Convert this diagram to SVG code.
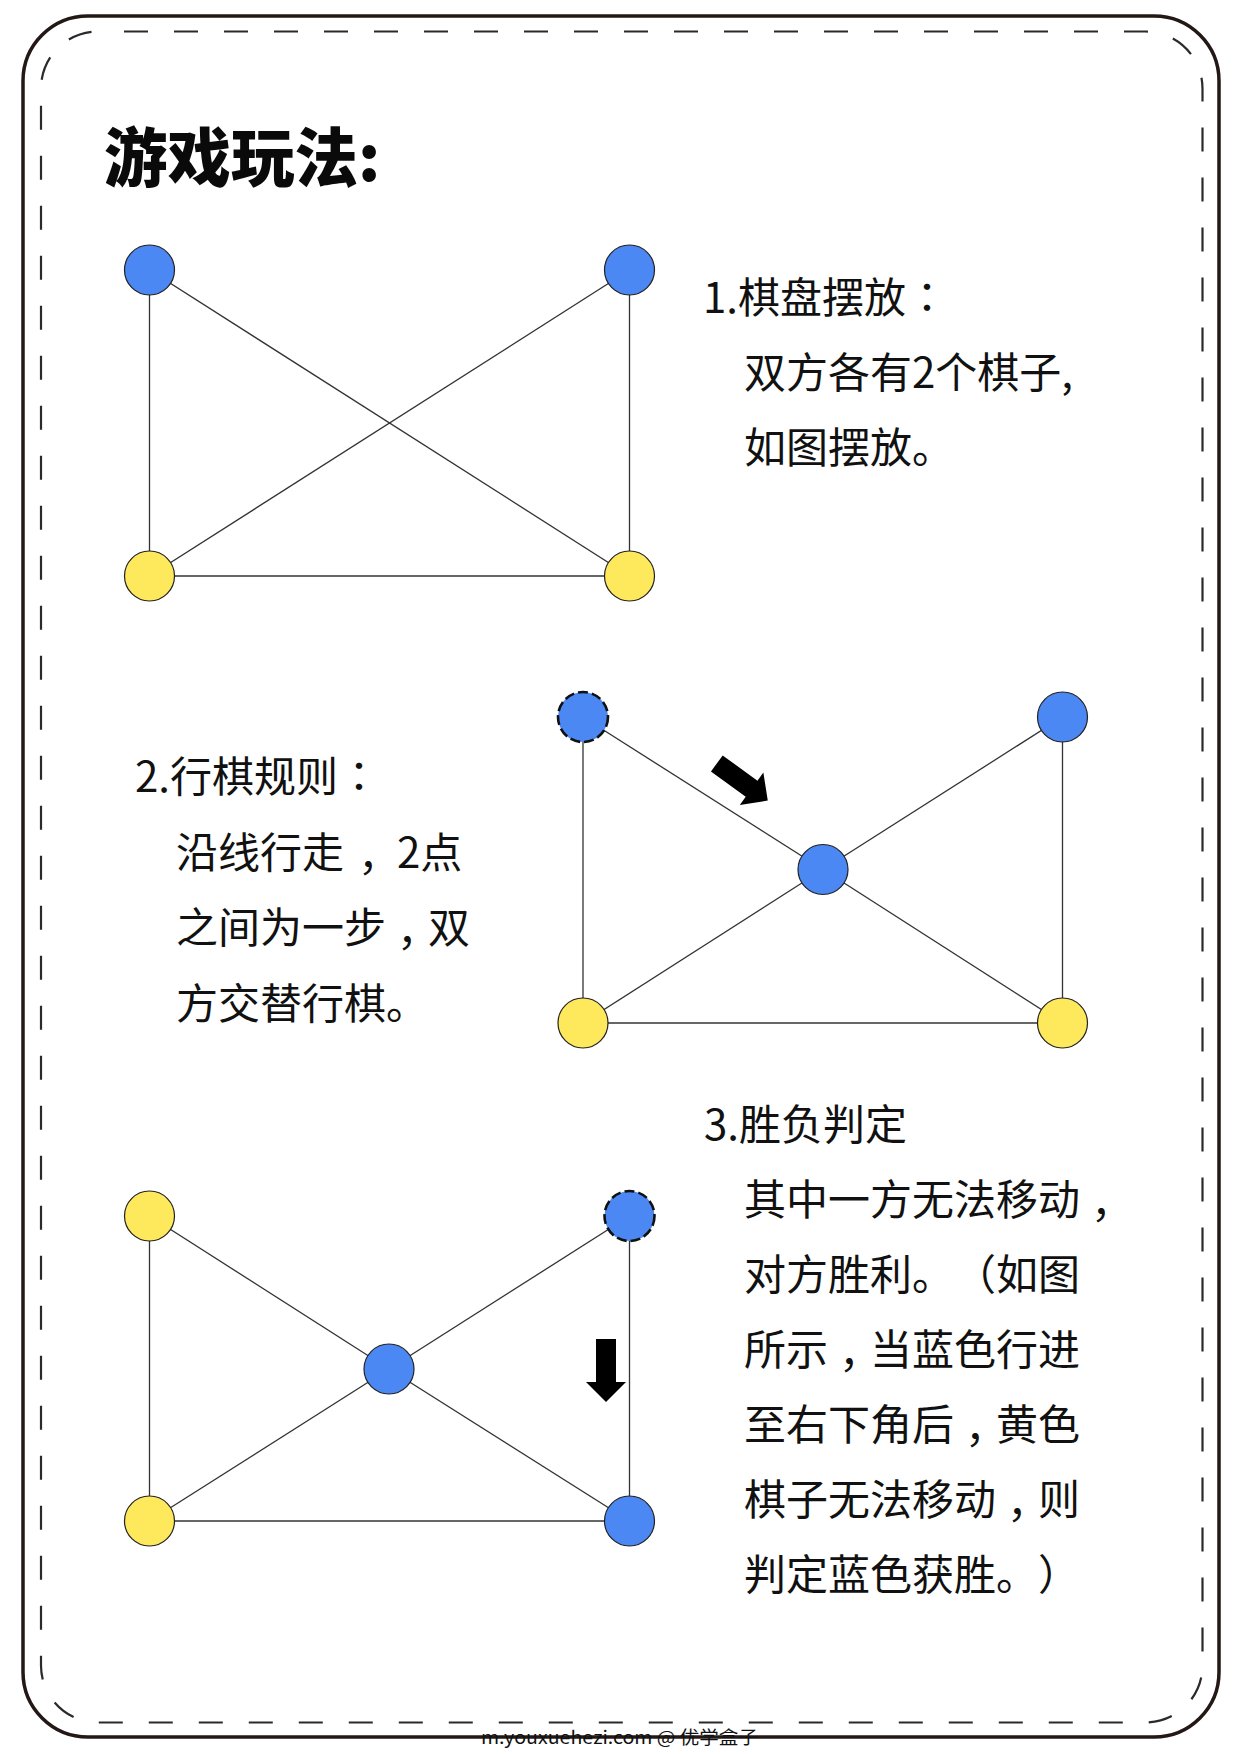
<svg xmlns="http://www.w3.org/2000/svg" xmlns:xlink="http://www.w3.org/1999/xlink" width="1241" height="1754" viewBox="0 0 1241 1754">
<style>
.frame{fill:none;stroke:#231815;stroke-width:3.5}
.stitch{fill:none;stroke:#2a2a2a;stroke-width:2.2;stroke-dasharray:24 26;stroke-dashoffset:24}
.edge{stroke:#333;stroke-width:1.3;fill:none}
.blue{fill:#4B88F4;stroke:#222;stroke-width:1.2}
.yellow{fill:#FEE85C;stroke:#222;stroke-width:1.2}
.ghost{fill:#4B88F4;stroke:#111;stroke-width:2.6;stroke-dasharray:10 4}
.title{font-family:"Noto Sans CJK SC","Noto Sans",sans-serif;font-weight:900;font-size:63.5px;fill:#0a0a0a}
.body{font-family:"Noto Sans CJK SC","Noto Sans",sans-serif;font-size:42px;fill:#111;text-spacing-trim:space-all}
.p{font-family:"Noto Sans CJK TC","Noto Sans CJK SC",sans-serif}
.foot{font-family:"Noto Sans CJK SC","Noto Sans",sans-serif;font-size:18px;fill:#111}
.arrow{fill:#000}
</style>
<defs>
<path id="arr" d="M0,-10 L43,-10 L43,-20 L63,0 L43,20 L43,10 L0,10 Z"/>
</defs>
<rect width="1241" height="1754" fill="#fff"/>
<g id="border">
<rect class="frame" x="23" y="16" width="1196" height="1721" rx="65" ry="65"/>
<rect class="stitch" x="41" y="31.5" width="1161.5" height="1691" rx="57" ry="57"/>
</g>
<g id="title"><text class="title" x="104" y="181">游戏玩法:</text></g>

<g id="connectors">
<!-- section 1 -->
<line class="edge" x1="149.5" y1="270" x2="629.5" y2="576"/>
<line class="edge" x1="629.5" y1="270" x2="149.5" y2="576"/>
<line class="edge" x1="149.5" y1="270" x2="149.5" y2="576"/>
<line class="edge" x1="629.5" y1="270" x2="629.5" y2="576"/>
<line class="edge" x1="149.5" y1="576" x2="629.5" y2="576"/>
<!-- section 2 -->
<line class="edge" x1="583" y1="717" x2="823" y2="869.5"/>
<line class="edge" x1="1062.5" y1="717" x2="823" y2="869.5"/>
<line class="edge" x1="583" y1="1023" x2="823" y2="869.5"/>
<line class="edge" x1="1062.5" y1="1023" x2="823" y2="869.5"/>
<line class="edge" x1="583" y1="717" x2="583" y2="1023"/>
<line class="edge" x1="1062.5" y1="717" x2="1062.5" y2="1023"/>
<line class="edge" x1="583" y1="1023" x2="1062.5" y2="1023"/>
<!-- section 3 -->
<line class="edge" x1="149.5" y1="1216" x2="389" y2="1369"/>
<line class="edge" x1="629.5" y1="1216" x2="389" y2="1369"/>
<line class="edge" x1="149.5" y1="1521" x2="389" y2="1369"/>
<line class="edge" x1="629.5" y1="1521" x2="389" y2="1369"/>
<line class="edge" x1="149.5" y1="1216" x2="149.5" y2="1521"/>
<line class="edge" x1="629.5" y1="1216" x2="629.5" y2="1521"/>
<line class="edge" x1="149.5" y1="1521" x2="629.5" y2="1521"/>
</g>

<g id="s1-tl"><circle class="blue" cx="149.5" cy="270" r="25"/></g>
<g id="s1-tr"><circle class="blue" cx="629.5" cy="270" r="25"/></g>
<g id="s1-bl"><circle class="yellow" cx="149.5" cy="576" r="25"/></g>
<g id="s1-br"><circle class="yellow" cx="629.5" cy="576" r="25"/></g>

<g id="s2-tl"><circle class="ghost" cx="583" cy="717" r="25"/></g>
<g id="s2-tr"><circle class="blue" cx="1062.5" cy="717" r="25"/></g>
<g id="s2-c"><circle class="blue" cx="823" cy="869.5" r="25"/></g>
<g id="s2-bl"><circle class="yellow" cx="583" cy="1023" r="25"/></g>
<g id="s2-br"><circle class="yellow" cx="1062.5" cy="1023" r="25"/></g>
<g id="s2-arrow"><use xlink:href="#arr" href="#arr" class="arrow" transform="translate(716.8,763.5) rotate(36)"/></g>

<g id="s3-tl"><circle class="yellow" cx="149.5" cy="1216" r="25"/></g>
<g id="s3-tr"><circle class="ghost" cx="629.5" cy="1216" r="25"/></g>
<g id="s3-c"><circle class="blue" cx="389" cy="1369" r="25"/></g>
<g id="s3-bl"><circle class="yellow" cx="149.5" cy="1521" r="25"/></g>
<g id="s3-br"><circle class="blue" cx="629.5" cy="1521" r="25"/></g>
<g id="s3-arrow"><use xlink:href="#arr" href="#arr" class="arrow" transform="translate(606,1339) rotate(90)"/></g>

<g id="text1" class="body">
<text x="703" y="313">1.棋盘摆放<tspan class="p">：</tspan></text>
<text x="744" y="388">双方各有2个棋子,</text>
<text x="744" y="463">如图摆放。</text>
</g>
<g id="text2" class="body">
<text x="135" y="792">2.行棋规则<tspan class="p">：</tspan></text>
<text x="176" y="867.5">沿线行走<tspan class="p" dx="3" dy="15">，</tspan><tspan dx="8" dy="-15">2点</tspan></text>
<text x="176" y="943">之间为一步<tspan class="p" dy="15">，</tspan><tspan dy="-15">双</tspan></text>
<text x="176" y="1018.5">方交替行棋。</text>
</g>
<g id="text3" class="body">
<text x="704" y="1139.5">3.胜负判定</text>
<text x="744" y="1215">其中一方无法移动<tspan class="p" dy="15">，</tspan></text>
<text x="744" y="1290">对方胜利。（如图</text>
<text x="744" y="1365">所示<tspan class="p" dy="15">，</tspan><tspan dy="-15">当蓝色行进</tspan></text>
<text x="744" y="1440">至右下角后<tspan class="p" dy="15">，</tspan><tspan dy="-15">黄色</tspan></text>
<text x="744" y="1515">棋子无法移动<tspan class="p" dy="15">，</tspan><tspan dy="-15">则</tspan></text>
<text x="744" y="1590">判定蓝色获胜。）</text>
</g>
<g id="footer"><text class="foot" x="481" y="1744" textLength="277" lengthAdjust="spacingAndGlyphs">m.youxuehezi.com @ 优学盒子</text></g>
</svg>
